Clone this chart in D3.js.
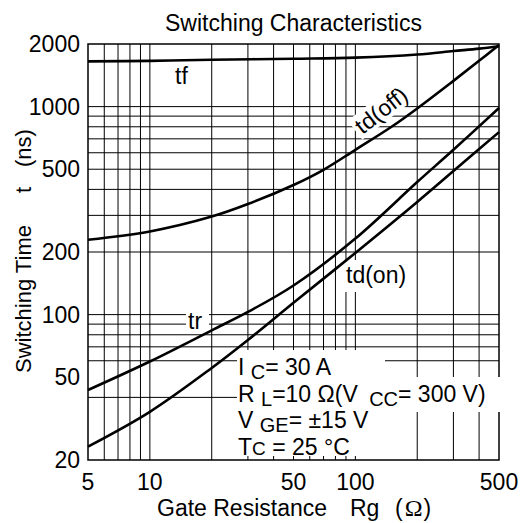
<!DOCTYPE html>
<html><head><meta charset="utf-8">
<script src="https://cdn.jsdelivr.net/npm/d3@7"></script>
<style>
body{margin:0;background:#fff}
svg{display:block}
text{font-family:"Liberation Sans",Arial,sans-serif;fill:#000}
</style>
</head><body>
<svg id="c" width="529" height="523"></svg>
<script>
// ---- data ----
const xTicks = [5, 10, 50, 100, 500];
const yTicks = [2000, 1000, 500, 200, 100, 50, 20];
const xGrid = [6, 7, 8, 9, 10, 20, 30, 40, 50, 60, 70, 80, 90, 100, 200, 300, 400];
const yGrid = [1000, 900, 800, 700, 600, 500, 400, 300, 200, 100, 90, 80, 70, 60, 40];

const rgTf = [5, 10, 20, 50, 100, 200, 300, 400, 500];
const tf = [1650, 1660, 1680, 1700, 1720, 1780, 1850, 1900, 1950];
const rgOff = [5, 10, 20, 30, 50, 70, 100, 150, 200, 300, 400, 500];
const tdOff = [229, 251, 296, 340, 420, 497, 620, 800, 980, 1330, 1660, 1980];
const rgTr = [5, 10, 20, 30, 50, 100, 200, 300, 500];
const tr = [43.4, 59.5, 84, 103, 138, 232, 434, 620, 985];
const rgOn = [5, 10, 20, 30, 50, 100, 200, 300, 500];
const tdOn = [23.2, 34.1, 55.4, 75.5, 114, 198, 348, 490, 754];

const seriesNames = ["tf", "td(off)", "tr", "td(on)"];
// [text, kind] kind: 0 normal, 1 subscript, 2 small same baseline
const conditions = [
  [["I ", 0], ["C", 1], ["= 30 A", 0]],
  [["R ", 0], ["L", 1], ["=10 Ω(V ", 0], ["CC", 1], ["= 300 V)", 0]],
  [["V ", 0], ["GE", 1], ["= ±15 V", 0]],
  [["T", 0], ["C", 2], [" = 25 °C", 0]]
];

// ---- layout ----
const L = 88, R = 499, T = 44, B = 460;
const svg = d3.select("#c");
const x = d3.scaleLog().domain([5, 500]).range([L, R]);
const y = d3.scaleLog().domain([20, 2000]).range([B, T]);
const FS = 23;

// grid
svg.append("g").selectAll("line").data(xGrid).join("line")
  .attr("x1", d => x(d)).attr("x2", d => x(d)).attr("y1", T).attr("y2", B)
  .attr("stroke", "#000").attr("stroke-width", 1);
svg.append("g").selectAll("line").data(yGrid).join("line")
  .attr("x1", L).attr("x2", R).attr("y1", d => y(d)).attr("y2", d => y(d))
  .attr("stroke", "#000").attr("stroke-width", 1);

// frame
svg.append("rect").attr("x", L).attr("y", T).attr("width", R - L).attr("height", B - T)
  .attr("fill", "none").attr("stroke", "#000").attr("stroke-width", 1.5);

// white backgrounds for labels
const bg = svg.append("g").attr("fill", "#fff");
bg.append("rect").attr("x", 237).attr("y", 350).attr("width", 148).attr("height", 106);
bg.append("rect").attr("x", 237).attr("y", 377).attr("width", 267).attr("height", 35);
bg.append("rect").attr("x", 186).attr("y", 309).attr("width", 23).attr("height", 22);
bg.append("rect").attr("x", 344).attr("y", 260).attr("width", 66).attr("height", 32);
bg.append("rect").attr("transform", "translate(381,110) rotate(-38)")
  .attr("x", -33).attr("y", -12).attr("width", 66).attr("height", 24);

// curves
const line = d3.line().x(d => x(d[0])).y(d => y(d[1])).curve(d3.curveCatmullRom.alpha(0.5));
const curves = [d3.zip(rgTf, tf), d3.zip(rgOff, tdOff), d3.zip(rgTr, tr), d3.zip(rgOn, tdOn)];
svg.append("g").selectAll("path").data(curves).join("path")
  .attr("d", line).attr("fill", "none").attr("stroke", "#000").attr("stroke-width", 2.6);

// series labels
svg.append("text").attr("x", 175).attr("y", 84).attr("font-size", FS).text(seriesNames[0]);
svg.append("text").attr("transform", "translate(381,110) rotate(-38)")
  .attr("text-anchor", "middle").attr("dy", "0.36em").attr("font-size", FS).text(seriesNames[1]);
svg.append("text").attr("x", 188).attr("y", 329).attr("font-size", FS).text(seriesNames[2]);
svg.append("text").attr("x", 346).attr("y", 283).attr("font-size", FS).text(seriesNames[3]);

// condition text
const cond = svg.append("g");
conditions.forEach((row, i) => {
  const t = cond.append("text").attr("x", 238).attr("y", 375 + i * 26.5).attr("font-size", FS);
  let shift = 0;
  row.forEach(([s, k], j) => {
    const ts = t.append("tspan").text(s);
    if (k === 1) {
      ts.attr("font-size", 20).attr("dy", 4 - shift);
      if (j > 1) ts.attr("dx", 5);
      shift = 4;
    } else if (k === 2) { ts.attr("font-size", 19).attr("dy", -shift); shift = 0; }
    else { ts.attr("font-size", FS).attr("dy", -shift); shift = 0; }
  });
});

// tick labels
svg.append("g").selectAll("text").data(xTicks).join("text")
  .attr("x", d => x(d)).attr("y", 490).attr("text-anchor", "middle")
  .attr("font-size", FS).text(d => d);
svg.append("g").selectAll("text").data(yTicks).join("text")
  .attr("x", 80).attr("y", d => y(d) + 8).attr("text-anchor", "end")
  .attr("font-size", FS).text(d => d);

// title and axis titles
svg.append("text").attr("x", (L + R) / 2).attr("y", 31).attr("text-anchor", "middle")
  .attr("font-size", FS).text("Switching Characteristics");
const xt = svg.append("text").attr("y", 516).attr("font-size", FS);
xt.append("tspan").attr("x", 157).text("Gate Resistance");
xt.append("tspan").attr("x", 350).text("Rg");
xt.append("tspan").attr("x", 395).text("(");
xt.append("tspan").attr("dx", 2).attr("font-family", "Liberation Serif").attr("font-size", 24).text("Ω");
xt.append("tspan").attr("dx", 1).text(")");
svg.append("text").attr("transform", "translate(31,373) rotate(-90)").attr("font-size", 22).text("Switching Time");
svg.append("text").attr("transform", "translate(31,193) rotate(-90)").attr("font-size", 22).text("t");
svg.append("text").attr("transform", "translate(31,167) rotate(-90)").attr("font-size", 22).text("(ns)");
</script>
</body></html>
